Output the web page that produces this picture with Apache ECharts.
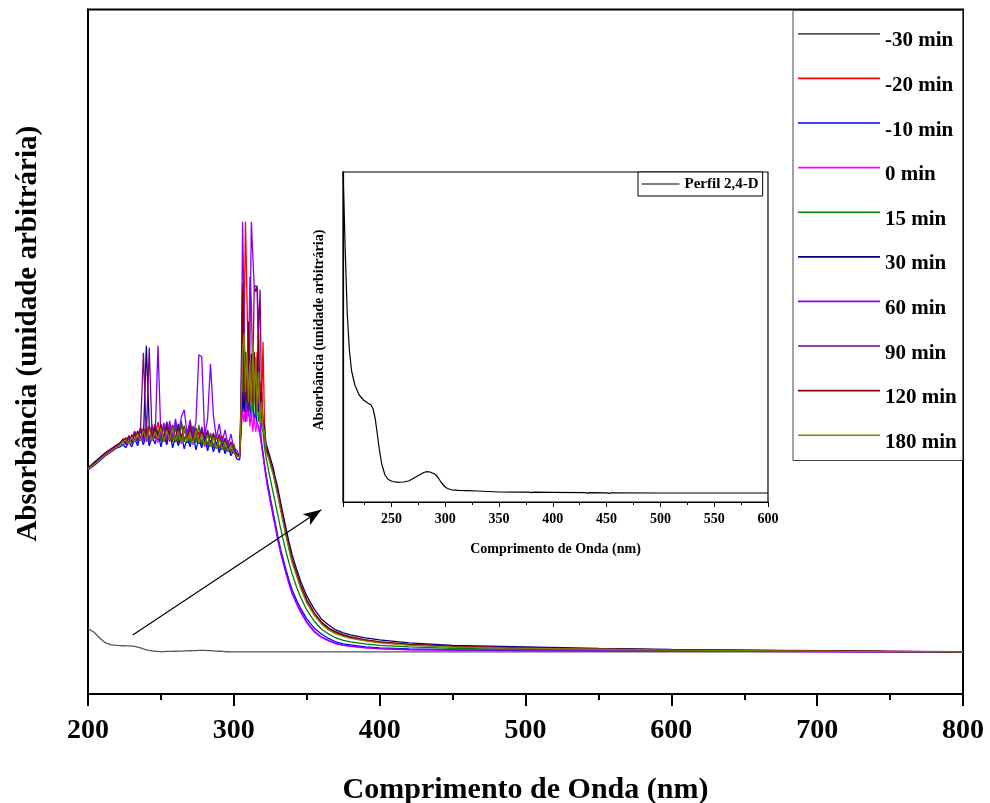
<!DOCTYPE html>
<html>
<head>
<meta charset="utf-8">
<script src="https://cdn.jsdelivr.net/npm/echarts@6/dist/echarts.min.js"></script>
<style>html,body{margin:0;padding:0;background:#fff}#c{width:990px;height:803px}</style>
</head>
<body>
<div id="c"></div>
<script>
// ---------- DATA ----------
const wavelengths = [200,204,208,212,216,220,
  222,224,226,228,230,232,234,236,238,240,
  242,244,246,248,250,252,254,256,258,260,
  262,264,266,268,270,272,274,276,278,280,
  282,284,286,288,290,292,294,296,298,300,
  302,304,
  305,306,307,308,309,310,311,312,313,314,315,316,317,318,319,320,321,322,
  323,324,325,326,327,328,330,332,334,336,338,340,343,346,350,355,360,365,370,375,380,390,400,
  420,450,500,550,600,650,700,750,800];

const seriesNames = ['-30 min','-20 min','-10 min','0 min','15 min','30 min','60 min','90 min','120 min','180 min'];
const seriesColors = ['#555555','#ff0000','#0000ff','#ff00ff','#008000','#000080','#8000ff','#800080','#800000','#808000'];

const absM30 = [0.23,0.20,0.14,0.09,0.07,0.065,
  0.063,0.062,0.061,0.06,0.058,0.055,0.048,0.04,0.03,0.022,
  0.015,0.01,0.007,0.005,0.004,0.004,0.005,0.005,0.006,0.007,
  0.008,0.009,0.01,0.011,0.012,0.013,0.014,0.015,0.015,0.015,
  0.014,0.013,0.011,0.009,0.007,0.005,0.003,0.002,0.001,0,
  0,0,
  0,0,0,0,0,0,0,0,0,0,0,0,0,0,0,0,0,0,
  0,0,0,0,0,0,0,0,0,0,0,0,0,0,0,0,0,0,0,0,0,0,0,
  0,0,0,0,0,0,0,0,0];

const absM20 = [1.83,1.89,1.94,1.99,2.03,2.07,
  2.08,2.13,2.07,2.16,2.10,2.21,2.09,2.24,2.12,2.27,
  2.10,2.25,2.13,2.30,2.11,2.26,2.09,2.28,2.12,2.24,
  2.08,2.29,2.11,2.22,2.07,2.26,2.10,2.20,2.06,2.23,
  2.05,2.19,2.04,2.17,2.02,2.16,2.01,2.12,1.99,2.08,
  1.96,1.95,
  2.30,2.60,3.20,4.30,4.30,2.80,3.75,3.50,2.70,2.90,2.60,3.00,2.50,2.70,2.40,3.10,2.30,2.05,
  2.02,1.96,1.90,1.85,1.80,1.73,1.60,1.45,1.31,1.17,1.04,0.92,0.79,0.66,0.52,0.39,0.30,0.24,0.20,0.17,0.15,0.12,0.10,
  0.075,0.055,0.04,0.03,0.02,0.015,0.01,0.005,0];

const absM10 = [1.82,1.86,1.91,1.96,2.00,2.04,
  2.05,2.07,2.04,2.10,2.05,2.13,2.06,2.16,2.07,2.19,
  2.06,2.15,2.08,2.20,2.05,2.17,2.07,2.22,2.04,2.15,
  2.06,2.18,2.03,2.14,2.05,2.19,2.02,2.13,2.04,2.16,
  2.01,2.12,2.00,2.10,1.99,2.09,1.98,2.06,1.96,2.02,
  1.93,1.92,
  2.25,2.50,2.70,2.30,2.60,2.35,2.50,2.30,2.55,2.30,2.40,2.28,2.25,2.18,2.08,1.98,1.87,1.77,
  1.70,1.62,1.54,1.47,1.39,1.32,1.17,1.03,0.92,0.81,0.71,0.62,0.52,0.43,0.33,0.24,0.18,0.135,0.10,0.08,0.07,0.05,0.04,
  0.03,0.024,0.018,0.014,0.011,0.008,0.006,0.003,0.001];

const abs0 = [1.83,1.88,1.92,1.97,2.01,2.05,
  2.07,2.10,2.13,2.08,2.17,2.10,2.20,2.11,2.23,2.10,
  2.25,2.12,2.21,2.09,2.27,2.11,2.23,2.10,2.26,2.12,
  2.22,2.08,2.25,2.10,2.20,2.07,2.23,2.09,2.18,2.05,
  2.20,2.06,2.15,2.03,2.16,2.02,2.12,2.00,2.10,1.99,
  1.97,1.94,
  2.20,2.40,2.30,2.60,2.30,2.50,2.25,2.40,2.20,2.35,2.20,2.30,2.22,2.16,2.06,1.96,1.85,1.75,
  1.66,1.58,1.50,1.43,1.35,1.28,1.13,0.99,0.88,0.77,0.67,0.58,0.48,0.39,0.29,0.20,0.145,0.11,0.08,0.065,0.055,0.04,0.03,
  0.022,0.018,0.013,0.01,0.008,0.006,0.004,0.002,0];

const abs15 = [1.83,1.87,1.93,1.98,2.02,2.06,
  2.08,2.06,2.12,2.14,2.08,2.18,2.10,2.21,2.12,2.24,
  2.11,2.27,2.13,2.22,2.10,2.28,2.12,2.24,2.09,2.29,
  2.11,2.31,2.10,2.23,2.08,2.25,2.09,2.27,2.07,2.20,
  2.06,2.18,2.05,2.17,2.03,2.14,2.02,2.10,2.00,2.06,
  1.97,1.95,
  2.30,2.80,2.50,2.90,2.40,2.70,2.50,2.60,2.40,2.70,2.35,2.50,2.30,2.45,2.25,2.20,2.05,1.95,
  1.88,1.80,1.73,1.66,1.59,1.52,1.38,1.24,1.11,0.99,0.88,0.78,0.65,0.54,0.42,0.31,0.23,0.18,0.14,0.115,0.10,0.08,0.065,
  0.05,0.035,0.025,0.02,0.015,0.01,0.007,0.003,0];

const abs30 = [1.84,1.89,1.94,1.99,2.03,2.07,
  2.09,2.12,2.08,2.15,2.10,2.19,2.11,2.24,2.12,3.06,
  2.26,2.12,2.27,2.14,2.24,2.10,2.30,2.12,2.25,2.13,
  2.28,2.11,2.24,2.09,2.27,2.12,2.22,2.08,2.24,2.07,
  2.21,2.06,2.18,2.04,2.17,2.03,2.13,2.01,2.09,2.00,
  1.98,1.96,
  2.30,2.60,2.40,2.70,2.50,2.90,2.50,2.98,2.60,2.80,2.50,2.70,2.40,2.60,2.35,2.30,2.25,2.08,
  2.04,1.99,1.94,1.89,1.84,1.77,1.65,1.50,1.36,1.22,1.09,0.97,0.83,0.70,0.56,0.43,0.33,0.27,0.22,0.19,0.17,0.14,0.12,
  0.09,0.065,0.05,0.035,0.025,0.018,0.012,0.006,0.002];

const abs60 = [1.82,1.87,1.92,1.97,2.02,2.05,
  2.08,2.11,2.07,2.14,2.09,2.18,2.10,2.22,2.11,2.25,
  2.12,2.27,2.13,3.06,2.14,2.29,2.12,2.31,2.15,2.33,
  2.16,2.35,2.42,2.17,2.32,2.15,2.30,2.97,2.95,2.16,
  2.33,2.88,2.36,2.14,2.28,2.10,2.22,2.06,2.18,2.03,
  2.02,1.95,
  2.50,4.30,4.30,2.50,2.40,2.60,3.00,4.30,4.30,3.64,3.66,3.64,2.60,2.30,2.10,1.99,1.88,1.78,
  1.67,1.59,1.51,1.44,1.36,1.29,1.14,1.00,0.89,0.78,0.68,0.59,0.49,0.40,0.30,0.21,0.15,0.115,0.085,0.068,0.058,0.043,0.033,
  0.024,0.019,0.014,0.011,0.009,0.006,0.004,0.002,0];

const abs90 = [1.83,1.88,1.93,1.98,2.03,2.07,
  2.08,2.13,2.09,2.16,2.11,2.20,2.12,2.22,2.99,2.14,
  3.04,2.13,2.28,2.12,2.26,2.14,2.29,2.11,2.25,2.13,
  2.27,2.10,2.24,2.12,2.28,2.09,2.23,2.11,2.25,2.06,
  2.22,2.05,2.19,2.04,2.18,2.02,2.14,2.01,2.10,1.99,
  1.97,1.95,
  2.60,3.69,3.10,2.50,2.90,2.40,2.70,2.50,2.80,3.65,3.60,3.66,3.20,3.62,2.50,2.30,2.20,2.02,
  2.01,1.95,1.89,1.84,1.79,1.72,1.59,1.44,1.30,1.16,1.03,0.91,0.78,0.65,0.51,0.38,0.29,0.23,0.19,0.165,0.145,0.115,0.095,
  0.07,0.052,0.038,0.028,0.019,0.014,0.009,0.004,0];

const abs120 = [1.84,1.88,1.93,1.98,2.02,2.06,
  2.08,2.11,2.14,2.09,2.17,2.11,2.21,2.12,2.24,2.13,
  2.26,2.12,2.24,2.15,2.28,2.11,2.25,2.13,2.27,2.10,
  2.24,2.12,2.26,2.09,2.22,2.10,2.24,2.08,2.20,2.07,
  2.19,2.05,2.17,2.04,2.15,2.02,2.12,2.00,2.08,2.01,
  1.96,1.96,
  2.35,3.60,2.60,3.00,2.50,3.30,2.60,2.90,2.50,3.00,2.40,2.80,3.20,2.40,2.60,2.30,2.20,2.03,
  2.02,1.96,1.90,1.85,1.80,1.73,1.60,1.45,1.31,1.17,1.04,0.92,0.79,0.66,0.52,0.39,0.30,0.24,0.20,0.17,0.15,0.12,0.10,
  0.075,0.055,0.04,0.03,0.02,0.015,0.01,0.005,0];

const abs180 = [1.83,1.87,1.92,1.97,2.01,2.05,
  2.07,2.10,2.12,2.08,2.15,2.10,2.18,2.11,2.21,2.12,
  2.23,2.11,2.20,2.13,2.24,2.10,2.22,2.12,2.25,2.11,
  2.21,2.09,2.24,2.10,2.20,2.08,2.22,2.09,2.18,2.06,
  2.17,2.05,2.15,2.03,2.14,2.02,2.10,2.00,2.07,1.99,
  1.96,1.95,
  2.40,3.00,3.19,2.60,3.00,2.50,2.90,2.40,3.10,2.50,2.95,2.40,2.80,2.30,2.50,2.25,2.20,2.00,
  1.99,1.93,1.87,1.82,1.77,1.70,1.57,1.42,1.28,1.14,1.01,0.89,0.76,0.63,0.49,0.37,0.28,0.22,0.18,0.155,0.135,0.11,0.09,
  0.068,0.05,0.036,0.027,0.018,0.013,0.008,0.004,0];

const seriesValues = [absM30, absM20, absM10, abs0, abs15, abs30, abs60, abs90, abs120, abs180];

// Inset: 2,4-D profile
const insetName = 'Perfil 2,4-D';
const insetWavelengths = [205,207,209,211,213,216,220,224,228,231,233,235,237,239,241,244,247,251,256,261,266,271,276,280,283,286,289,291,293,296,299,302,306,312,320,330,340,350,365,378,380,382,400,430,432,434,450,452,454,500,550,600];
const insetProfile = [3.25,2.45,1.78,1.42,1.22,1.08,0.98,0.93,0.90,0.88,0.84,0.74,0.58,0.42,0.29,0.18,0.135,0.115,0.107,0.11,0.12,0.15,0.18,0.205,0.213,0.21,0.195,0.185,0.16,0.11,0.07,0.045,0.032,0.027,0.024,0.02,0.015,0.01,0.008,0.008,0.003,0.008,0.006,0.003,-0.002,0.003,0.002,-0.003,0.002,0,0,0];

// Arrow annotation (data coordinates of main plot)
const arrowStart = [230.7, 0.17];
const arrowEnd = [360.0, 1.42];

// Axis texts
const xTitle = 'Comprimento de Onda (nm)';
const yTitle = 'Absorbância (unidade arbitrária)';

seriesValues.forEach((v, k) => { if (v.length !== wavelengths.length) console.error('length mismatch', seriesNames[k], v.length); });
if (insetProfile.length !== insetWavelengths.length) console.error('inset length mismatch');

// ---------- CHART ----------
const FONT = 'Liberation Serif';
const chart = echarts.init(document.getElementById('c'), null, { renderer: 'canvas' });

const mainSeries = seriesValues.map((vals, k) => ({
  name: seriesNames[k],
  type: 'line',
  xAxisIndex: 0,
  yAxisIndex: 0,
  data: wavelengths.map((w, i) => [w, vals[i]]),
  symbol: 'none',
  showSymbol: false,
  lineStyle: { width: 1.3, color: seriesColors[k] },
  itemStyle: { color: seriesColors[k] },
  clip: true,
  silent: true,
  z: 2
}));

mainSeries[0].markLine = {
  silent: true,
  symbol: ['none', 'arrow'],
  symbolSize: [10, 18],
  label: { show: false },
  lineStyle: { color: '#000', width: 1.2, type: 'solid' },
  data: [[{ coord: arrowStart }, { coord: arrowEnd }]]
};

const insetSeries = {
  name: insetName,
  type: 'line',
  xAxisIndex: 1,
  yAxisIndex: 1,
  data: insetWavelengths.map((w, i) => [w, insetProfile[i]]),
  symbol: 'none',
  showSymbol: false,
  lineStyle: { width: 1.2, color: '#000' },
  itemStyle: { color: '#000' },
  clip: true,
  silent: true,
  z: 3
};

const boldText = (size) => ({ fontFamily: FONT, fontWeight: 'bold', fontSize: size, color: '#000' });

const option = {
  animation: false,
  backgroundColor: '#fff',
  grid: [
    { left: 88, top: 9.5, right: 27, bottom: 109, show: true, borderColor: '#000', borderWidth: 2, backgroundColor: 'rgba(0,0,0,0)', containLabel: false, outerBoundsMode: 'none' },
    { left: 343, top: 172, right: 222, bottom: 301, show: true, borderColor: '#000', borderWidth: 1.2, backgroundColor: '#fff', containLabel: false, outerBoundsMode: 'none' }
  ],
  legend: [
    {
      data: seriesNames,
      orient: 'vertical',
      left: 793,
      top: 10.5,
      padding: [20, 6, 7.6, 5],
      itemWidth: 82,
      itemHeight: 16,
      itemGap: 23.6,
      icon: 'path://M0,0H100V2H0Z M0,19.5L0.01,19.5',
      selectedMode: false,
      backgroundColor: '#fff',
      borderColor: '#444',
      borderWidth: 1,
      itemStyle: { borderWidth: 0 },
      textStyle: boldText(21)
    },
    {
      data: [insetName],
      orient: 'horizontal',
      left: 638,
      top: 172,
      padding: [4.5, 4, 4.5, 3.5],
      itemWidth: 38,
      itemHeight: 14,
      icon: 'path://M0,0H100V3H0Z',
      selectedMode: false,
      backgroundColor: '#fff',
      borderColor: '#000',
      borderWidth: 1,
      itemStyle: { borderWidth: 0 },
      textStyle: boldText(15)
    }
  ],
  xAxis: [
    {
      type: 'value', gridIndex: 0, min: 200, max: 800, interval: 100,
      axisLine: { show: true, onZero: false, lineStyle: { color: '#000', width: 2 } },
      axisTick: { show: true, inside: false, length: 12, lineStyle: { color: '#000', width: 2 } },
      minorTick: { show: true, splitNumber: 2, length: 6, lineStyle: { color: '#000', width: 2 } },
      splitLine: { show: false }, minorSplitLine: { show: false },
      axisLabel: Object.assign(boldText(28), { margin: 23 }),
      name: xTitle, nameLocation: 'middle', nameGap: 81, nameMoveOverlap: false,
      nameTextStyle: boldText(30)
    },
    {
      type: 'value', gridIndex: 1, min: 205, max: 600, splitNumber: 8,
      axisLine: { show: true, onZero: false, lineStyle: { color: '#000', width: 1.2 } },
      axisTick: { show: true, inside: false, length: 5, lineStyle: { color: '#000', width: 1 } },
      minorTick: { show: true, splitNumber: 2, length: 3, lineStyle: { color: '#000', width: 1 } },
      splitLine: { show: false }, minorSplitLine: { show: false },
      axisLabel: Object.assign(boldText(14), { margin: 10, showMinLabel: false }),
      name: xTitle, nameLocation: 'middle', nameGap: 40, nameMoveOverlap: false,
      nameTextStyle: boldText(14)
    }
  ],
  yAxis: [
    {
      type: 'value', gridIndex: 0, min: -0.42, max: 6.42,
      axisLine: { show: true, onZero: false, lineStyle: { color: '#000', width: 2 } },
      axisTick: { show: false }, axisLabel: { show: false },
      splitLine: { show: false },
      name: yTitle, nameLocation: 'middle', nameGap: 45, nameMoveOverlap: false,
      nameTextStyle: Object.assign(boldText(29), { padding: [0, 0, 0, 36] })
    },
    {
      type: 'value', gridIndex: 1, min: -0.09, max: 3.21,
      axisLine: { show: true, onZero: false, lineStyle: { color: '#000', width: 1.2 } },
      axisTick: { show: false }, axisLabel: { show: false },
      splitLine: { show: false },
      name: yTitle, nameLocation: 'middle', nameGap: 17, nameMoveOverlap: false,
      nameTextStyle: Object.assign(boldText(14), { padding: [0, 0, 0, 14] })
    }
  ],
  series: mainSeries.concat([insetSeries])
};

chart.setOption(option);
</script>
</body>
</html>
